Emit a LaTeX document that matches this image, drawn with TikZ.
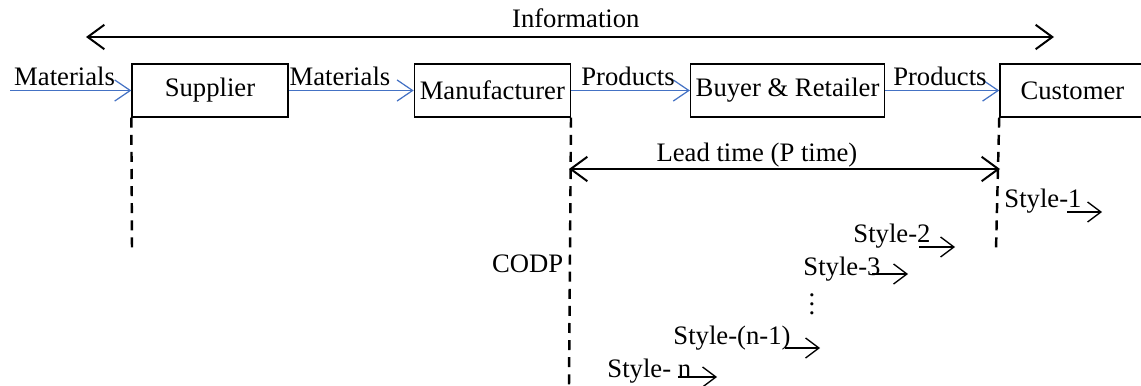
\documentclass[tikz,border=0pt]{standalone}
\usepackage{fontspec}
\setmainfont{Liberation Serif}
\usepackage{xcolor}
\usetikzlibrary{arrows.meta,positioning}
\definecolor{flowblue}{RGB}{68,114,196}

\begin{document}
\begin{tikzpicture}[x=0.45pt, y=-0.45pt, font=\fontsize{12}{14}\selectfont,
  box/.style={rectangle, draw, line width=0.6pt, minimum height=23.85pt, inner sep=2pt},
  flow/.style={draw=flowblue, line width=0.55pt, -{Straight Barb[length=7pt,width=9.5pt]}},
  bigarrow/.style={line width=0.9pt, {Straight Barb[length=7.5pt,width=11pt]}-{Straight Barb[length=7.5pt,width=11pt]}},
  cutline/.style={dash pattern=on 4.5pt off 3.2pt, line width=1.1pt},
  stylearr/.style={line width=0.6pt, -{Straight Barb[length=6pt,width=9pt]}},
  lbl/.style={inner sep=0pt, anchor=base west}]

\useasboundingbox (0,0) rectangle (1141,386);

% chain of the supply
\node[box, minimum width=70.2pt] (supplier) at (210,90.5) {Supplier};
\node[box, minimum width=70.2pt, right=56.25pt of supplier] (manuf) {Manufacturer};
\node[box, minimum width=87.3pt, right=53.5pt of manuf] (buyer) {Buyer \& Retailer};
\node[box, minimum width=65.25pt, right=51.3pt of buyer] (customer) {Customer};

\coordinate (src) at (10,90.5);
\draw[flow] (src) -- node[above, pos=0.45, inner sep=2pt]{Materials} (supplier.west);
\draw[flow] (supplier) -- node[above, pos=0.41, inner sep=2pt]{Materials} (manuf);
\draw[flow] (manuf) -- node[above, pos=0.48, inner sep=2pt]{Products} (buyer);
\draw[flow] (buyer) -- node[above, pos=0.48, inner sep=2pt]{Products} (customer);

% information flow
\coordinate (info-l) at (86,37);
\coordinate (info-r) at (1054,37);
\draw[bigarrow] (info-l) -- node[above, pos=0.506, inner sep=3.5pt]{Information} (info-r);

% dashed lines
\coordinate (sup-end) at (132,250);
\coordinate (codp-end) at (569,386);
\coordinate (cus-end) at (996,250);
\draw[cutline] (supplier.south west) -- (sup-end);
\draw[cutline] (manuf.south east) -- (codp-end);
\draw[cutline] (customer.south west) -- (cus-end);
\node[anchor=east, inner sep=1pt] (codp) at (566,264) {CODP};

% lead time
\coordinate (lt-l) at (569,169);
\coordinate (lt-r) at (1000,169);
\draw[bigarrow] (lt-l) -- node[above, pos=0.436, inner sep=0.5pt]{Lead time (P time)} (lt-r);

% styles
\node[lbl] (style1) at (1004,207) {Style-1};
\node[lbl] (style2) at (853,242) {Style-2};
\node[lbl] (style3) at (803,275) {Style-3};
\node (dots) at (812,298) {$\vdots$};
\node[lbl] (stylen1) at (673,344) {Style-(n-1)};
\node[lbl] (stylen) at (607,377) {Style- n};

\coordinate (s1-a) at (1067,212); \coordinate (s1-b) at (1102,212);
\coordinate (s2-a) at (919,247); \coordinate (s2-b) at (955,247);
\coordinate (s3-a) at (872,274); \coordinate (s3-b) at (908,274);
\coordinate (sn1-a) at (785,348); \coordinate (sn1-b) at (820,348);
\coordinate (sn-a) at (678,377); \coordinate (sn-b) at (717,377);
\draw[stylearr] (s1-a) -- (s1-b);
\draw[stylearr] (s2-a) -- (s2-b);
\draw[stylearr] (s3-a) -- (s3-b);
\draw[stylearr] (sn1-a) -- (sn1-b);
\draw[stylearr] (sn-a) -- (sn-b);

\end{tikzpicture}
\end{document}
